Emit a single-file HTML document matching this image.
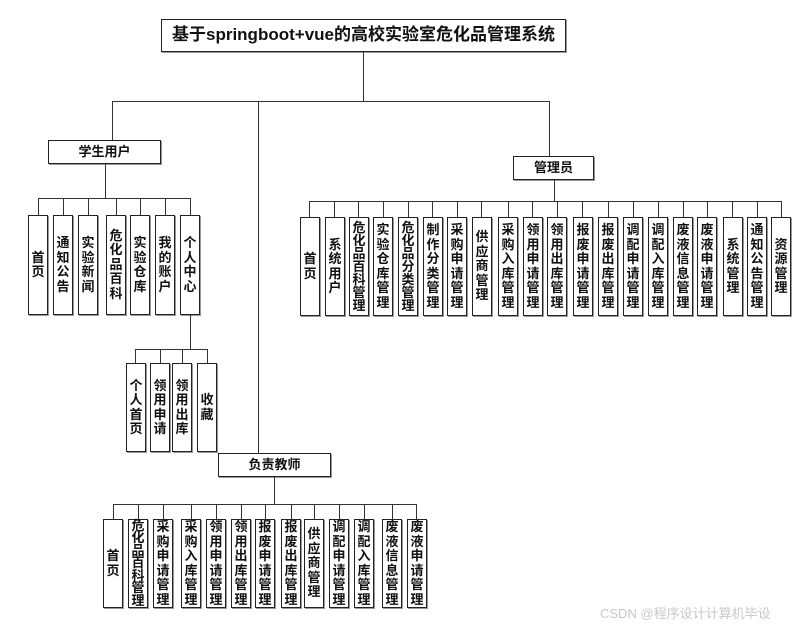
<!DOCTYPE html>
<html><head><meta charset="utf-8">
<style>
body{margin:0;width:807px;height:628px;background:#fff;position:relative;overflow:hidden;font-family:"Liberation Sans","Noto Sans CJK SC",sans-serif;}
.b{position:absolute;border:1px solid #222;box-sizing:border-box;display:flex;align-items:center;justify-content:center;font-weight:bold;font-size:13px;line-height:14.5px;text-align:center;color:#111;background:#fff;box-shadow:1px 1px 0 #999;}
.v span{display:block;width:14px;word-break:break-all;}
.h{position:absolute;height:1px;background:#333;}
.l{position:absolute;width:1px;background:#333;}
</style></head><body>
<div class="b" style="left:161px;top:19px;width:405px;height:33px;font-size:17px;">基于springboot+vue的高校实验室危化品管理系统</div>
<div class="l" style="left:363px;top:52px;height:49px"></div>
<div class="h" style="left:112px;top:101px;width:438px"></div>
<div class="l" style="left:112px;top:101px;height:39px"></div>
<div class="l" style="left:258px;top:101px;height:352px"></div>
<div class="l" style="left:549px;top:101px;height:55px"></div>

<!-- student -->
<div class="b" style="left:48px;top:140px;width:113px;height:24px;">学生用户</div>
<div class="l" style="left:105px;top:164px;height:34px"></div>
<div class="h" style="left:38px;top:198px;width:153px"></div>
<div class="l" style="left:38px;top:198px;height:17px"></div>
<div class="l" style="left:63px;top:198px;height:17px"></div>
<div class="l" style="left:88px;top:198px;height:17px"></div>
<div class="l" style="left:116px;top:198px;height:17px"></div>
<div class="l" style="left:140px;top:198px;height:17px"></div>
<div class="l" style="left:165px;top:198px;height:17px"></div>
<div class="l" style="left:190px;top:198px;height:17px"></div>
<div class="b v" style="left:28px;top:215px;width:20px;height:100px"><span>首页</span></div>
<div class="b v" style="left:53px;top:215px;width:20px;height:100px"><span>通知公告</span></div>
<div class="b v" style="left:78px;top:215px;width:20px;height:100px"><span>实验新闻</span></div>
<div class="b v" style="left:106px;top:215px;width:20px;height:100px"><span>危化品百科</span></div>
<div class="b v" style="left:130px;top:215px;width:20px;height:100px"><span>实验仓库</span></div>
<div class="b v" style="left:155px;top:215px;width:20px;height:100px"><span>我的账户</span></div>
<div class="b v" style="left:180px;top:215px;width:20px;height:100px"><span>个人中心</span></div>
<div class="l" style="left:190px;top:315px;height:34px"></div>
<div class="h" style="left:135px;top:349px;width:73px"></div>
<div class="l" style="left:135px;top:349px;height:14px"></div>
<div class="l" style="left:160px;top:349px;height:14px"></div>
<div class="l" style="left:182px;top:349px;height:14px"></div>
<div class="l" style="left:207px;top:349px;height:14px"></div>
<div class="b v" style="left:126px;top:363px;width:20px;height:89px"><span>个人首页</span></div>
<div class="b v" style="left:150px;top:363px;width:20px;height:89px"><span>领用申请</span></div>
<div class="b v" style="left:172px;top:363px;width:20px;height:89px"><span>领用出库</span></div>
<div class="b v" style="left:197px;top:363px;width:20px;height:89px"><span>收藏</span></div>

<!-- teacher -->
<div class="b" style="left:218px;top:453px;width:113px;height:24px;">负责教师</div>
<div class="l" style="left:274px;top:477px;height:27px"></div>
<div class="h" style="left:113px;top:504px;width:304px"></div>
<div class="l" style="left:113px;top:504px;height:15px"></div>
<div class="l" style="left:138px;top:504px;height:15px"></div>
<div class="l" style="left:163px;top:504px;height:15px"></div>
<div class="l" style="left:191px;top:504px;height:15px"></div>
<div class="l" style="left:216px;top:504px;height:15px"></div>
<div class="l" style="left:241px;top:504px;height:15px"></div>
<div class="l" style="left:265px;top:504px;height:15px"></div>
<div class="l" style="left:291px;top:504px;height:15px"></div>
<div class="l" style="left:314px;top:504px;height:15px"></div>
<div class="l" style="left:339px;top:504px;height:15px"></div>
<div class="l" style="left:364px;top:504px;height:15px"></div>
<div class="l" style="left:392px;top:504px;height:15px"></div>
<div class="l" style="left:416px;top:504px;height:15px"></div>
<div class="b v" style="left:103px;top:519px;width:20px;height:89px"><span>首页</span></div>
<div class="b v" style="left:128px;top:519px;width:20px;height:89px;line-height:12.5px"><span>危化品百科管理</span></div>
<div class="b v" style="left:153px;top:519px;width:20px;height:89px"><span>采购申请管理</span></div>
<div class="b v" style="left:181px;top:519px;width:20px;height:89px"><span>采购入库管理</span></div>
<div class="b v" style="left:206px;top:519px;width:20px;height:89px"><span>领用申请管理</span></div>
<div class="b v" style="left:231px;top:519px;width:20px;height:89px"><span>领用出库管理</span></div>
<div class="b v" style="left:255px;top:519px;width:20px;height:89px"><span>报废申请管理</span></div>
<div class="b v" style="left:281px;top:519px;width:20px;height:89px"><span>报废出库管理</span></div>
<div class="b v" style="left:304px;top:519px;width:20px;height:89px"><span>供应商管理</span></div>
<div class="b v" style="left:329px;top:519px;width:20px;height:89px"><span>调配申请管理</span></div>
<div class="b v" style="left:354px;top:519px;width:20px;height:89px"><span>调配入库管理</span></div>
<div class="b v" style="left:382px;top:519px;width:20px;height:89px"><span>废液信息管理</span></div>
<div class="b v" style="left:407px;top:519px;width:20px;height:89px"><span>废液申请管理</span></div>

<!-- admin -->
<div class="b" style="left:513px;top:156px;width:81px;height:24px;">管理员</div>
<div class="l" style="left:554px;top:180px;height:21px"></div>
<div class="h" style="left:309px;top:201px;width:473px"></div>
<div class="l" style="left:309px;top:201px;height:16px"></div>
<div class="l" style="left:334px;top:201px;height:16px"></div>
<div class="l" style="left:358px;top:201px;height:16px"></div>
<div class="l" style="left:383px;top:201px;height:16px"></div>
<div class="l" style="left:408px;top:201px;height:16px"></div>
<div class="l" style="left:432px;top:201px;height:16px"></div>
<div class="l" style="left:457px;top:201px;height:16px"></div>
<div class="l" style="left:481px;top:201px;height:16px"></div>
<div class="l" style="left:508px;top:201px;height:16px"></div>
<div class="l" style="left:532px;top:201px;height:16px"></div>
<div class="l" style="left:557px;top:201px;height:16px"></div>
<div class="l" style="left:582px;top:201px;height:16px"></div>
<div class="l" style="left:608px;top:201px;height:16px"></div>
<div class="l" style="left:633px;top:201px;height:16px"></div>
<div class="l" style="left:658px;top:201px;height:16px"></div>
<div class="l" style="left:683px;top:201px;height:16px"></div>
<div class="l" style="left:707px;top:201px;height:16px"></div>
<div class="l" style="left:732px;top:201px;height:16px"></div>
<div class="l" style="left:757px;top:201px;height:16px"></div>
<div class="l" style="left:781px;top:201px;height:16px"></div>
<div class="b v" style="left:300px;top:217px;width:20px;height:99px"><span>首页</span></div>
<div class="b v" style="left:325px;top:217px;width:20px;height:99px"><span>系统用户</span></div>
<div class="b v" style="left:349px;top:217px;width:20px;height:99px;line-height:13px"><span>危化品百科管理</span></div>
<div class="b v" style="left:373px;top:217px;width:20px;height:99px"><span>实验仓库管理</span></div>
<div class="b v" style="left:398px;top:217px;width:20px;height:99px;line-height:13px"><span>危化品分类管理</span></div>
<div class="b v" style="left:423px;top:217px;width:20px;height:99px"><span>制作分类管理</span></div>
<div class="b v" style="left:447px;top:217px;width:20px;height:99px"><span>采购申请管理</span></div>
<div class="b v" style="left:472px;top:217px;width:20px;height:99px"><span>供应商管理</span></div>
<div class="b v" style="left:498px;top:217px;width:20px;height:99px"><span>采购入库管理</span></div>
<div class="b v" style="left:523px;top:217px;width:20px;height:99px"><span>领用申请管理</span></div>
<div class="b v" style="left:547px;top:217px;width:20px;height:99px"><span>领用出库管理</span></div>
<div class="b v" style="left:573px;top:217px;width:20px;height:99px"><span>报废申请管理</span></div>
<div class="b v" style="left:598px;top:217px;width:20px;height:99px"><span>报废出库管理</span></div>
<div class="b v" style="left:623px;top:217px;width:20px;height:99px"><span>调配申请管理</span></div>
<div class="b v" style="left:648px;top:217px;width:20px;height:99px"><span>调配入库管理</span></div>
<div class="b v" style="left:673px;top:217px;width:20px;height:99px"><span>废液信息管理</span></div>
<div class="b v" style="left:697px;top:217px;width:20px;height:99px"><span>废液申请管理</span></div>
<div class="b v" style="left:723px;top:217px;width:20px;height:99px"><span>系统管理</span></div>
<div class="b v" style="left:747px;top:217px;width:20px;height:99px"><span>通知公告管理</span></div>
<div class="b v" style="left:771px;top:217px;width:20px;height:99px"><span>资源管理</span></div>

<div style="position:absolute;left:600px;top:603px;font-size:13px;color:#c8c8c8;white-space:nowrap;">CSDN @程序设计计算机毕设</div>
</body></html>
